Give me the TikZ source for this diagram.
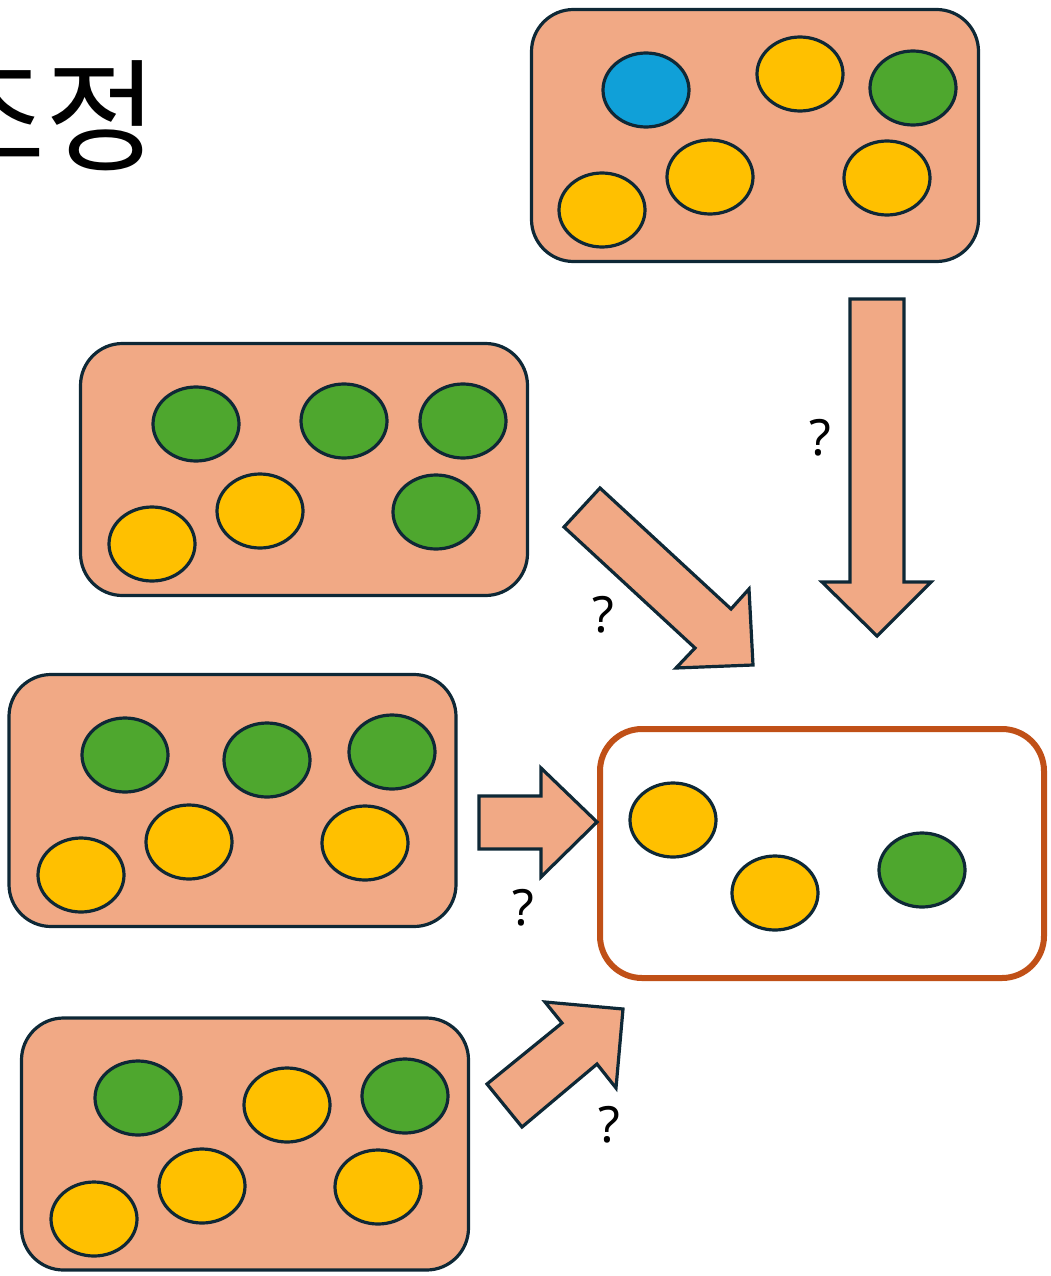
\documentclass[tikz,border=0pt]{standalone}
\usepackage{fontspec}
\setmainfont{Noto Sans}
\newfontfamily\kofont{Noto Sans CJK KR}
\usetikzlibrary{shapes.geometric}
\definecolor{boxfill}{HTML}{F1A985}
\definecolor{ink}{HTML}{0E2836}
\definecolor{cblue}{HTML}{10A0D8}
\definecolor{cyel}{HTML}{FFC000}
\definecolor{cgreen}{HTML}{4EA72E}
\definecolor{rust}{HTML}{C05017}
\tikzset{
  ball/.style={ellipse, draw=ink, line width=3.2pt, minimum width=86pt, minimum height=74pt, inner sep=0pt},
  yb/.style={ball, fill=cyel},
  gb/.style={ball, fill=cgreen},
  bb/.style={ball, fill=cblue},
  bin/.style={rectangle, rounded corners=42pt, draw=ink, fill=boxfill, line width=3.2pt, minimum width=447pt, minimum height=252pt, inner sep=0pt},
  target/.style={rectangle, rounded corners=42pt, draw=rust, fill=white, line width=6pt, minimum width=444pt, minimum height=249pt, inner sep=0pt},
  blockarrow/.style={draw=ink, fill=boxfill, line width=3.2pt, line join=miter},
  qmark/.style={font=\fontsize{50}{54}\selectfont, inner sep=0pt}
}
\begin{document}
\begin{tikzpicture}[x=1pt, y=-1pt]
\useasboundingbox (0,0) rectangle (1050,1276);
% title
\node[anchor=base east, inner sep=0pt, font=\kofont\fontsize{122}{130}\selectfont] (title) at (158,162) {조정};
% box A (top right)
\node[bin] (boxA) at (755,135.5) {};
\node[bb] (a1) at (646,90) {};
\node[yb] (a2) at (800,74) {};
\node[gb] (a3) at (913,88) {};
\node[yb] (a4) at (710,177) {};
\node[yb] (a5) at (602,210) {};
\node[yb] (a6) at (887,178) {};
% box B
\node[bin] (boxB) at (304,469.5) {};
\node[gb] (b1) at (196,424) {};
\node[gb] (b2) at (344,421) {};
\node[gb] (b3) at (463,421) {};
\node[yb] (b4) at (260,511) {};
\node[yb] (b5) at (152,544) {};
\node[gb] (b6) at (436,512) {};
% box C
\node[bin] (boxC) at (232.5,800.5) {};
\node[gb] (c1) at (125,755) {};
\node[gb] (c2) at (267,760) {};
\node[gb] (c3) at (392,752) {};
\node[yb] (c4) at (189,842) {};
\node[yb] (c5) at (81,875) {};
\node[yb] (c6) at (365,843) {};
% box D
\node[bin] (boxD) at (245,1144) {};
\node[gb] (d1) at (138,1098) {};
\node[yb] (d2) at (287,1105) {};
\node[gb] (d3) at (405,1096) {};
\node[yb] (d4) at (202,1186) {};
\node[yb] (d5) at (94,1219) {};
\node[yb] (d6) at (378,1187) {};
% target box
\node[target] (res) at (822,853.5) {};
\node[yb] (r1) at (673,820) {};
\node[yb] (r2) at (775,893) {};
\node[gb] (r3) at (922,870) {};
% block arrows
\draw[blockarrow] (850,299) -- (904,299) -- (904,582) -- (931,582) -- (877,636) -- (822,582) -- (850,582) -- cycle;
\draw[blockarrow] (600,488) -- (731,609) -- (749,589) -- (753,665) -- (676,668) -- (695,648) -- (564,527) -- cycle;
\draw[blockarrow] (479,796) -- (541,796) -- (541,768) -- (597,822) -- (541,877) -- (541,849) -- (479,849) -- cycle;
\draw[blockarrow] (487,1084) -- (562,1023) -- (545,1002) -- (623,1009) -- (616,1088) -- (597,1064) -- (522,1127) -- cycle;
% question marks
\node[qmark] (q1) at (820,438) {?};
\node[qmark] (q2) at (603,615) {?};
\node[qmark] (q3) at (523,908) {?};
\node[qmark] (q4) at (609,1125) {?};
\end{tikzpicture}
\end{document}
